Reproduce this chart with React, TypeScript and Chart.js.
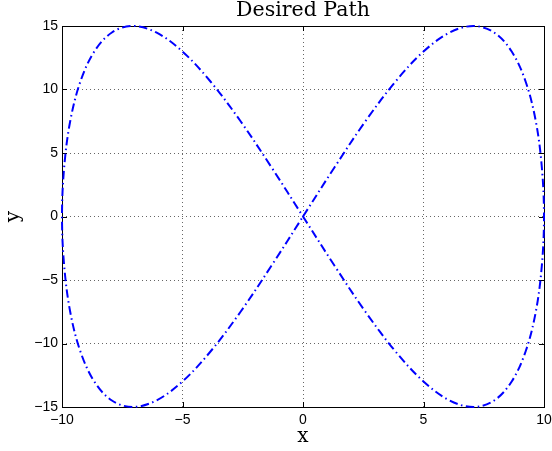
import React, { useEffect, useRef } from "react";
import { Chart, registerables } from "chart.js";

Chart.register(...registerables);

const chartTitle = "Desired Path";
const xAxisTitle = "x";
const yAxisTitle = "y";

const xTickValues = [-10, -5, 0, 5, 10];
const yTickValues = [-15, -10, -5, 0, 5, 10, 15];

// Path points
const pathX = [
  0, 1.31, 2.59, 3.83, 5.0, 6.09, 7.07, 7.93, 8.66, 9.24, 9.66, 9.91, 10,
  9.91, 9.66, 9.24, 8.66, 7.93, 7.07, 6.09, 5.0, 3.83, 2.59, 1.31, 0,
  -1.31, -2.59, -3.83, -5.0, -6.09, -7.07, -7.93, -8.66, -9.24, -9.66, -9.91, -10,
  -9.91, -9.66, -9.24, -8.66, -7.93, -7.07, -6.09, -5.0, -3.83, -2.59, -1.31, 0,
];
const pathY = [
  0, 3.88, 7.5, 10.61, 12.99, 14.49, 15, 14.49, 12.99, 10.61, 7.5, 3.88, 0,
  -3.88, -7.5, -10.61, -12.99, -14.49, -15, -14.49, -12.99, -10.61, -7.5, -3.88, 0,
  3.88, 7.5, 10.61, 12.99, 14.49, 15, 14.49, 12.99, 10.61, 7.5, 3.88, 0,
  -3.88, -7.5, -10.61, -12.99, -14.49, -15, -14.49, -12.99, -10.61, -7.5, -3.88, 0,
];

const fmt = (v: number) => String(v).replace("-", "\u2212");

const boxPlugin = {
  id: "matlabBox",
  beforeDatasetsDraw(chart: any) {
    const { ctx, chartArea } = chart;
    const { left, right, top, bottom } = chartArea;
    const xs = chart.scales.x;
    const ys = chart.scales.y;
    ctx.save();
    ctx.setLineDash([]);
    ctx.strokeStyle = "#000";
    ctx.lineWidth = 1;
    const tl = 5;
    ctx.beginPath();
    xTickValues.forEach((v) => {
      const px = Math.round(xs.getPixelForValue(v)) + 0.5;
      ctx.moveTo(px, bottom);
      ctx.lineTo(px, bottom - tl);
      ctx.moveTo(px, top);
      ctx.lineTo(px, top + tl);
    });
    yTickValues.forEach((v) => {
      const py = Math.round(ys.getPixelForValue(v)) + 0.5;
      ctx.moveTo(left, py);
      ctx.lineTo(left + tl, py);
      ctx.moveTo(right, py);
      ctx.lineTo(right - tl, py);
    });
    ctx.stroke();
    ctx.strokeRect(
      Math.round(left) + 0.5,
      Math.round(top) + 0.5,
      Math.round(right - left),
      Math.round(bottom - top)
    );
    ctx.restore();
  },
};

export default function App() {
  const ref = useRef<HTMLCanvasElement>(null);

  useEffect(() => {
    if (!ref.current) return;
    const points = pathX.map((x, i) => ({ x, y: pathY[i] }));
    const gridColor = (ctx: any) => {
      const v = ctx.tick ? ctx.tick.value : 0;
      const s = ctx.scale;
      if (v === s.min || v === s.max) return "rgba(0,0,0,0)";
      return "rgba(0,0,0,0.6)";
    };
    const chart = new Chart(ref.current, {
      type: "scatter",
      data: {
        datasets: [
          {
            data: points,
            showLine: true,
            borderColor: "#0000ff",
            borderWidth: 2,
            borderDash: [8.5, 3.5, 1.5, 3.5],
            pointRadius: 0,
            tension: 0.35,
            fill: false,
            clip: false,
          } as any,
        ],
      },
      options: {
        animation: false,
        responsive: false,
        devicePixelRatio: 1,
        layout: { padding: { left: 0, right: 8, top: 0, bottom: 0 } },
        plugins: {
          legend: { display: false },
          tooltip: { enabled: false },
          title: {
            display: true,
            fullSize: false,
            text: chartTitle,
            color: "#000",
            font: { family: "DejaVu Serif", size: 20.5, weight: "normal", lineHeight: "22px" } as any,
            padding: { top: 0, bottom: 4 },
          },
        },
        scales: {
          x: {
            type: "linear",
            min: -10,
            max: 10,
            afterFit: (s: any) => {
              s.height = 44;
              s.paddingLeft = 0;
              s.paddingRight = 0;
            },
            afterBuildTicks: (s: any) => {
              s.ticks = xTickValues.map((v) => ({ value: v }));
            },
            ticks: {
              color: "#000",
              font: { family: "Liberation Sans", size: 14 },
              padding: 5,
              maxRotation: 0,
              autoSkip: false,
              callback: (v: any) => fmt(v),
            },
            grid: { color: gridColor, lineWidth: 1, drawTicks: false },
            border: { display: false, dash: [1, 3] },
            title: {
              display: true,
              text: xAxisTitle,
              color: "#000",
              font: { family: "DejaVu Serif", size: 20, weight: "normal", lineHeight: 1.2 } as any,
              padding: { top: 0, bottom: 2 },
            },
          },
          y: {
            type: "linear",
            min: -15,
            max: 15,
            afterFit: (s: any) => {
              s.width = 62;
              s.paddingTop = 0;
              s.paddingBottom = 0;
            },
            afterBuildTicks: (s: any) => {
              s.ticks = yTickValues.map((v) => ({ value: v }));
            },
            ticks: {
              color: "#000",
              font: { family: "Liberation Sans", size: 14 },
              padding: 4,
              autoSkip: false,
              callback: (v: any) => fmt(v),
            },
            grid: { color: gridColor, lineWidth: 1, drawTicks: false },
            border: { display: false, dash: [1, 3] },
            title: {
              display: true,
              text: yAxisTitle,
              color: "#000",
              font: { family: "DejaVu Serif", size: 20, weight: "normal", lineHeight: 1.2 } as any,
              padding: { top: 2, bottom: 0 },
            },
          },
        },
      },
      plugins: [boxPlugin],
    });
    return () => chart.destroy();
  }, []);

  return (
    <div style={{ position: "absolute", left: 0, top: 0, width: 552, height: 451, background: "#fff" }}>
      <canvas ref={ref} width={552} height={451} style={{ display: "block" }} />
    </div>
  );
}
